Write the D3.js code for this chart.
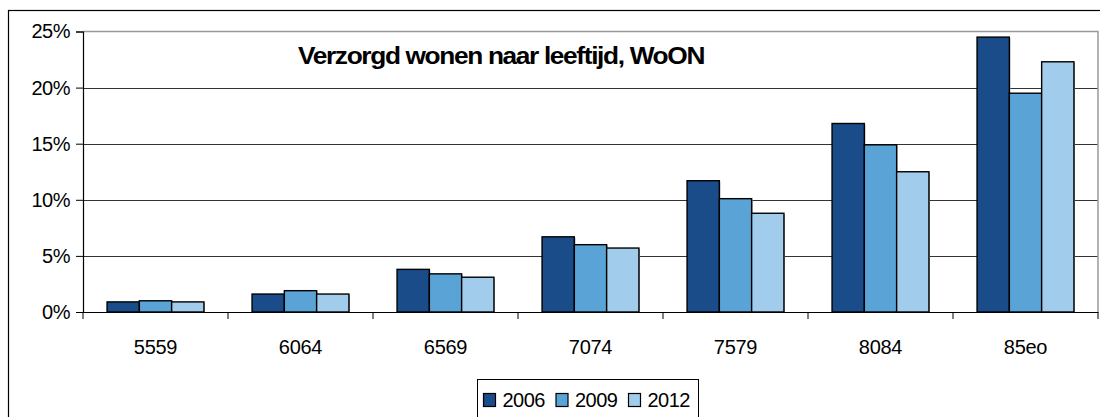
<!DOCTYPE html>
<html>
  <head>
    <script src="https://d3js.org/d3.v7.min.js"></script>
    <style>
      body { margin: 0; background: #fff; }
      text { font-family: "Liberation Sans", Arial, sans-serif; fill: #000; }
    </style>
  </head>
  <body>
    <svg id="chart" width="1100" height="417"></svg>

  <script>
  // Data (share of people in "verzorgd wonen", %)
  var ageGroups = ["5559", "6064", "6569", "7074", "7579", "8084", "85eo"];
  var years = ["2006", "2009", "2012"];
  var values2006 = [0.9, 1.6, 3.8, 6.7, 11.7, 16.8, 24.5];
  var values2009 = [1.0, 1.9, 3.4, 6.0, 10.1, 14.9, 19.5];
  var values2012 = [0.9, 1.6, 3.1, 5.7, 8.8, 12.5, 22.3];
  var yTicks = [0, 5, 10, 15, 20, 25];
  var colors = ["#1b4c8a", "#59a3d6", "#a2cceb"];

  var series = [values2006, values2009, values2012];

  var svg = d3.select("#chart");

  // plot area (note: "top" is taken by window.top, so prefix everything)
  var plotLeft = 83, plotRight = 1098, plotTop = 31.5, plotBottom = 312;

  // outer chart frame (runs off the right and bottom edge)
  svg.append("rect")
    .attr("x", 8.5).attr("y", 10.5)
    .attr("width", 1100).attr("height", 420)
    .attr("fill", "none").attr("stroke", "#000").attr("stroke-width", 1.2);

  var x0 = d3.scaleBand().domain(ageGroups).range([plotLeft, plotRight]);
  var x1 = d3.scaleBand().domain(years).range([0, x0.bandwidth()]).paddingOuter(0.745);
  var y = d3.scaleLinear().domain([0, 25]).range([plotBottom, plotTop]);
  var color = d3.scaleOrdinal().domain(years).range(colors);

  // gridlines
  svg.append("g")
    .selectAll("line")
    .data(yTicks.slice(1, -1))
    .enter().append("line")
      .attr("x1", plotLeft).attr("x2", plotRight)
      .attr("y1", function(d) { return Math.round(y(d)) + 0.5; })
      .attr("y2", function(d) { return Math.round(y(d)) + 0.5; })
      .attr("stroke", "#333").attr("stroke-width", 1);

  // grey plot frame top + right
  svg.append("path")
    .attr("d", "M" + plotLeft + "," + plotTop + "H" + plotRight + "V" + plotBottom)
    .attr("fill", "none").attr("stroke", "#999").attr("stroke-width", 1.5);

  // bars
  var groups = svg.append("g")
    .selectAll("g")
    .data(ageGroups)
    .enter().append("g")
      .attr("transform", function(d) { return "translate(" + x0(d) + ",0)"; });

  function barData(d, i) {
    return years.map(function(yr, j) { return {year: yr, value: series[j][i]}; });
  }

  groups.selectAll("rect.shadow")
    .data(barData)
    .enter().append("rect")
      .attr("class", "shadow")
      .attr("x", function(d) { return x1(d.year) + 1; })
      .attr("y", function(d) { return y(d.value) + 1; })
      .attr("width", x1.bandwidth())
      .attr("height", function(d) { return plotBottom - y(d.value); })
      .attr("fill", "#aaa");

  groups.selectAll("rect.bar")
    .data(barData)
    .enter().append("rect")
      .attr("class", "bar")
      .attr("x", function(d) { return x1(d.year); })
      .attr("y", function(d) { return y(d.value); })
      .attr("width", x1.bandwidth())
      .attr("height", function(d) { return plotBottom - y(d.value); })
      .attr("fill", function(d) { return color(d.year); })
      .attr("stroke", "#000").attr("stroke-width", 1.4);

  // y axis
  var yAxis = svg.append("g")
    .attr("transform", "translate(" + plotLeft + ",0)")
    .call(d3.axisLeft(y).tickValues(yTicks).tickSize(7).tickPadding(6)
      .tickFormat(function(d) { return d + "%"; }));
  yAxis.select(".domain").attr("stroke", "#000").attr("stroke-width", 1.2);
  yAxis.selectAll(".tick line").attr("stroke", "#000");
  yAxis.selectAll("text").style("font-size", "20px").attr("letter-spacing", "-0.5px")
    .attr("font-family", "Liberation Sans, Arial, sans-serif");

  // x axis
  var xAxis = svg.append("g")
    .attr("transform", "translate(0," + plotBottom + ")")
    .call(d3.axisBottom(x0).tickSize(0).tickPadding(28));
  xAxis.select(".domain").attr("stroke", "#000").attr("stroke-width", 1.2);
  xAxis.selectAll("text").style("font-size", "20px").attr("letter-spacing", "-0.3px")
    .attr("font-family", "Liberation Sans, Arial, sans-serif");
  // category separators
  xAxis.append("g")
    .selectAll("line")
    .data(ageGroups.concat(["end"]))
    .enter().append("line")
      .attr("x1", function(d) { return d === "end" ? plotRight : x0(d); })
      .attr("x2", function(d) { return d === "end" ? plotRight : x0(d); })
      .attr("y1", 0).attr("y2", 7)
      .attr("stroke", "#000").attr("stroke-width", 1);

  // title - squeezed like the original
  svg.append("text")
    .attr("x", 501).attr("y", 64)
    .attr("text-anchor", "middle")
    .attr("letter-spacing", "-1.2px")
    .attr("textLength", 406).attr("lengthAdjust", "spacingAndGlyphs")
    .style("font-size", "23.5px").style("font-weight", "bold")
    .text("Verzorgd wonen naar leeftijd, WoON");

  // legend
  var legend = svg.append("g").attr("transform", "translate(477,379)");
  legend.append("rect")
    .attr("x", 0.5).attr("y", 0.5).attr("width", 221).attr("height", 50)
    .attr("fill", "#fff").attr("stroke", "#000").attr("stroke-width", 1);
  var item = legend.selectAll("g.item")
    .data(years)
    .enter().append("g")
      .attr("class", "item")
      .attr("transform", function(d, i) { return "translate(" + (6.5 + i * 72.5) + ",0)"; });
  item.append("rect")
    .attr("x", 0).attr("y", 14.5).attr("width", 12).attr("height", 13)
    .attr("fill", function(d) { return color(d); })
    .attr("stroke", "#000").attr("stroke-width", 1.2);
  item.append("text")
    .attr("x", 19).attr("y", 27.5)
    .attr("letter-spacing", "-0.5px")
    .style("font-size", "20px")
    .text(function(d) { return d; });
  </script>
  </body>
</html>
